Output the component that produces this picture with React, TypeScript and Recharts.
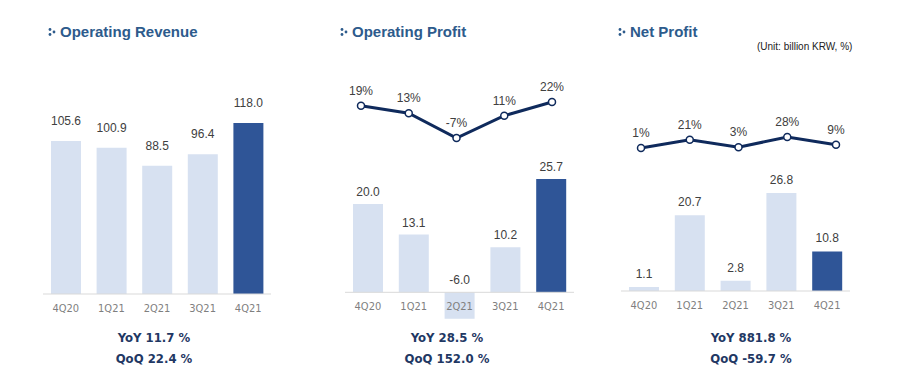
import {
  Bar,
  Cell,
  ComposedChart,
  LabelList,
  Line,
  LineChart,
  ReferenceLine,
  XAxis,
  YAxis,
} from "recharts";

const quarters = ["4Q20", "1Q21", "2Q21", "3Q21", "4Q21"];
const revenue = [105.6, 100.9, 88.5, 96.4, 118.0];
const opProfit = [20.0, 13.1, -6.0, 10.2, 25.7];
const opMargin = [19, 13, -7, 11, 22];
const netProfit = [1.1, 20.7, 2.8, 26.8, 10.8];
const netMargin = [1, 21, 3, 28, 9];

const titles = ["Operating Revenue", "Operating Profit", "Net Profit"];
const yoy = ["11.7", "28.5", "881.8"];
const qoq = ["22.4", "152.0", "-59.7"];

const LIGHT = "#d7e1f1";
const DARK = "#2f5597";
const NAVY = "#0f2a5c";
const TITLE = "#2d5b8c";
const NARROW = "'Liberation Sans Narrow', 'DejaVu Sans Condensed', sans-serif";
const SANS = "'Liberation Sans', Arial, sans-serif";
const TOP = 60;

const barLabel = (gap: number) => (props: any) => {
  const vb = props.viewBox ?? props;
  const { x, y, width, height } = vb;
  const top = Math.min(y, y + height);
  return (
    <text
      x={x + width / 2}
      y={top - gap}
      textAnchor="middle"
      fontSize={12}
      fill="#404040"
      fontFamily={SANS}
    >
      {Number(props.value).toFixed(1)}
    </text>
  );
};

interface BarPanelProps {
  values: number[];
  left: number;
  width: number;
  baseline: number;
  pxPerUnit: number;
  bottom: number;
  labelGap: number;
}

function BarPanel({ values, left, width, baseline, pxPerUnit, bottom, labelGap }: BarPanelProps) {
  const axisH = 30;
  const data = quarters.map((q, i) => ({ q, v: values[i] }));
  const hi = (baseline - TOP) / pxPerUnit;
  const lo = -(bottom - baseline) / pxPerUnit;
  return (
    <div style={{ position: "absolute", left, top: TOP }}>
      <ComposedChart
        width={width}
        height={bottom - TOP + axisH}
        data={data}
        margin={{ top: 0, right: 0, bottom: 0, left: 0 }}
      >
        <XAxis
          dataKey="q"
          axisLine={false}
          tickLine={false}
          interval={0}
          height={axisH}
          tickMargin={0}
          tick={{ fontSize: 11, fill: "#7f7f7f", fontFamily: NARROW, dy: baseline - bottom + 4 }}
        />
        <YAxis hide type="number" domain={[lo, hi]} />
        <ReferenceLine y={0} stroke="#d9d9d9" strokeWidth={1} />
        <Bar dataKey="v" barSize={30} isAnimationActive={false}>
          {data.map((_, i) => (
            <Cell key={i} fill={i === data.length - 1 ? DARK : LIGHT} />
          ))}
          <LabelList dataKey="v" content={barLabel(labelGap)} />
        </Bar>
      </ComposedChart>
    </div>
  );
}

interface LinePanelProps {
  values: number[];
  firstX: number;
  lastX: number;
  zeroY: number;
  pxPerPct: number;
}

function LinePanel({ values, firstX, lastX, zeroY, pxPerPct }: LinePanelProps) {
  const pad = 12;
  const h = 120;
  const data = quarters.map((q, i) => ({ q, m: values[i] }));
  const hi = (zeroY - TOP) / pxPerPct;
  const lo = -(TOP + h - zeroY) / pxPerPct;
  return (
    <div style={{ position: "absolute", left: firstX - pad, top: TOP }}>
      <LineChart
        width={lastX - firstX + 2 * pad}
        height={h}
        data={data}
        margin={{ top: 0, right: pad, bottom: 0, left: pad }}
      >
        <XAxis dataKey="q" hide />
        <YAxis hide type="number" domain={[lo, hi]} />
        <Line
          dataKey="m"
          stroke={NAVY}
          strokeWidth={3}
          dot={{ r: 3.5, fill: "#fff", stroke: NAVY, strokeWidth: 1.5 }}
          isAnimationActive={false}
        >
          <LabelList
            dataKey="m"
            position="top"
            offset={11}
            formatter={(v: any) => `${v}%`}
            style={{ fontSize: 12, fill: "#404040", fontFamily: SANS }}
          />
        </Line>
      </LineChart>
    </div>
  );
}

function Title({ text, x }: { text: string; x: number }) {
  return (
    <>
      <svg
        width={8}
        height={10}
        style={{ position: "absolute", left: x - 12, top: 27 }}
      >
        <circle cx={2} cy={2.5} r={1.4} fill={TITLE} />
        <circle cx={2} cy={7.5} r={1.4} fill={TITLE} />
        <circle cx={6} cy={5} r={1.4} fill={TITLE} />
      </svg>
      <div
        style={{
          position: "absolute",
          left: x,
          top: 23,
          lineHeight: "18px",
          fontSize: 15,
          fontWeight: 700,
          fontFamily: SANS,
          color: TITLE,
          whiteSpace: "nowrap",
        }}
      >
        {text}
      </div>
    </>
  );
}

function Change({ cx, y, label, value }: { cx: number; y: number; label: string; value: string }) {
  return (
    <div
      style={{
        position: "absolute",
        left: cx - 80,
        top: y - 8,
        width: 160,
        textAlign: "center",
        lineHeight: "16px",
        fontSize: 13,
        fontWeight: 700,
        fontFamily: NARROW,
        color: "#1f3864",
        whiteSpace: "pre",
      }}
    >
      {`${label} ${value} %`}
    </div>
  );
}

export default function App() {
  const centers = [154, 447, 751];
  return (
    <div
      style={{
        position: "absolute",
        left: 0,
        top: 0,
        width: 904,
        height: 392,
        background: "#fff",
        overflow: "hidden",
      }}
    >
      <Title text={titles[0]} x={60} />
      <Title text={titles[1]} x={352} />
      <Title text={titles[2]} x={630} />
      <div
        style={{
          position: "absolute",
          left: 757,
          top: 41,
          fontSize: 10,
          lineHeight: "12px",
          fontFamily: SANS,
          color: "#222",
          whiteSpace: "nowrap",
        }}
      >
        (Unit: billion KRW, %)
      </div>

      <BarPanel values={revenue} left={43} width={228} baseline={294} pxPerUnit={1.45} bottom={294} labelGap={16} />
      <BarPanel values={opProfit} left={345} width={229} baseline={292.3} pxPerUnit={4.41} bottom={330} labelGap={8} />
      <BarPanel values={netProfit} left={621} width={229} baseline={291} pxPerUnit={3.66} bottom={291} labelGap={9} />

      <LinePanel values={opMargin} firstX={361} lastX={552} zeroY={129.3} pxPerPct={1.241} />
      <LinePanel values={netMargin} firstX={641} lastX={836} zeroY={148.4} pxPerPct={0.407} />

      {centers.map((cx, i) => (
        <Change key={`y${i}`} cx={cx} y={338} label="YoY" value={yoy[i]} />
      ))}
      {centers.map((cx, i) => (
        <Change key={`q${i}`} cx={cx} y={359} label="QoQ" value={qoq[i]} />
      ))}
    </div>
  );
}
